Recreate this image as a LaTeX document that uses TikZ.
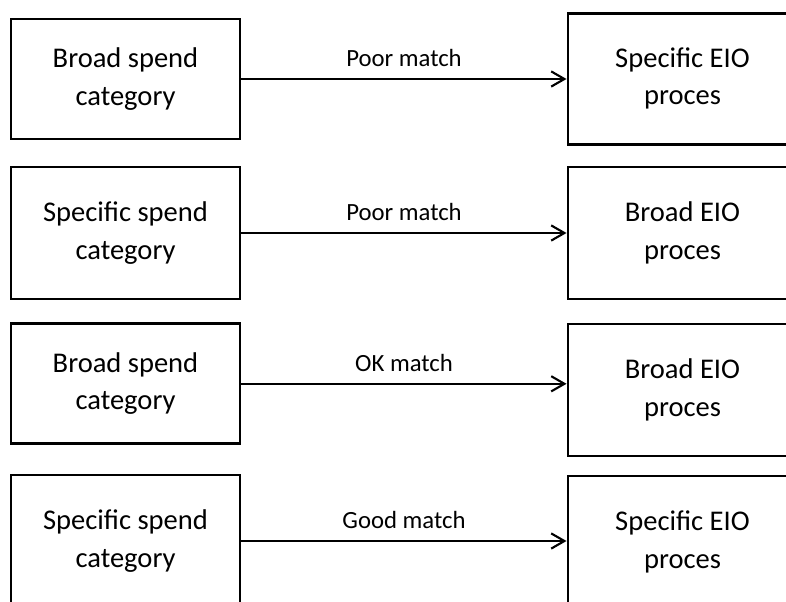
\documentclass[tikz,border=0pt]{standalone}
\usepackage{fontspec}
\setmainfont{Carlito}
\usetikzlibrary{arrows.meta}
\tikzset{
  spendbox/.style={draw, line width=2.1pt, minimum width=5.725cm, minimum height=3cm,
    align=center, inner sep=0pt, font=\fontsize{20.3}{26.5}\selectfont},
  eiobox/.style={spendbox, minimum height=3.3cm},
  matchline/.style={line width=1.5pt, -{Straight Barb[length=0.33cm, width=0.38cm, line width=1.5pt]}},
  matchlabel/.style={midway, yshift=0.52cm, font=\fontsize{17.6}{20}\selectfont}
}
\begin{document}
\begin{tikzpicture}
          \path[use as bounding box, clip] (0,0) rectangle (19.65,15.025);
          \node[spendbox] (b1) at (3.1375,13.05) {Broad spend\\category};
          \node[eiobox] (b2) at (3.1375,9.2) {Specific spend\\category};
          \node[spendbox] (b3) at (3.1375,5.43) {Broad spend\\category};
          \node[eiobox] (b4) at (3.1375,1.5) {Specific spend\\category};
          \node[eiobox, minimum height=3.275cm] (e1) at (17.0625,13.06) {Specific EIO\\proces};
          \node[eiobox] (e2) at (17.0625,9.2) {Broad EIO\\proces};
          \node[eiobox] (e3) at (17.0625,5.275) {Broad EIO\\proces};
          \node[eiobox] (e4) at (17.0625,1.475) {Specific EIO\\proces};
          \draw[matchline] (b1.east) -- (b1.east -| e1.west) node[matchlabel] {Poor match};
          \draw[matchline] (b2.east) -- (b2.east -| e2.west) node[matchlabel] {Poor match};
          \draw[matchline] (b3.east) -- (b3.east -| e3.west) node[matchlabel] {OK match};
          \draw[matchline] (b4.east) -- (b4.east -| e4.west) node[matchlabel] {Good match};
         \end{tikzpicture}
\end{document}
